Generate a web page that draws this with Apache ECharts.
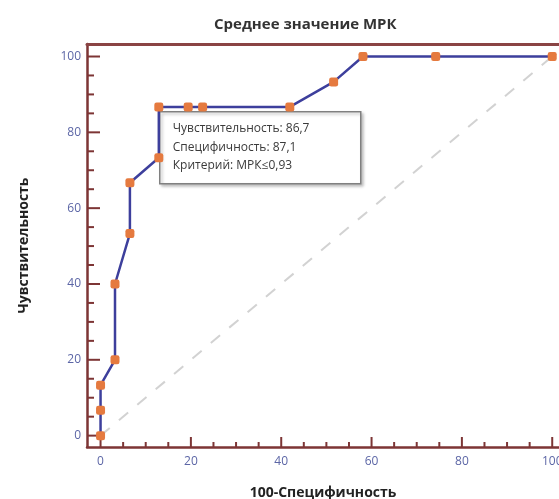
<!DOCTYPE html>
<html><head><meta charset="utf-8">
<script src="https://cdn.jsdelivr.net/npm/echarts@6/dist/echarts.min.js"></script>
<style>html,body{margin:0;padding:0;background:#fff}#c{width:559px;height:499px}</style>
</head><body><div id="c"></div>
<script>
const rocX = [0, 0, 0, 3.2, 3.2, 6.5, 6.5, 12.9, 12.9, 19.4, 22.6, 41.9, 51.6, 58.1, 74.2, 100];
const rocY = [0, 6.7, 13.3, 20, 40, 53.3, 66.7, 73.3, 86.7, 86.7, 86.7, 86.7, 93.3, 100, 100, 100];
const diagX = [0, 100];
const diagY = [0, 100];
const majorTicks = [0, 20, 40, 60, 80, 100];
const minorTicks = [5, 10, 15, 25, 30, 35, 45, 50, 55, 65, 70, 75, 85, 90, 95];
const annotLines = ['Чувствительность: 86,7', 'Специфичность: 87,1', 'Критерий: МРК≤0,93'];

const axisColor = '#7d3535';
const labelColor = '#5c66a6';
const font = '"Open Sans", "Liberation Sans", sans-serif';
const xMin = -3, xMax = 101.5, yMin = -3, yMax = 103.3;

function tickSeries(values, onX, len) {
  return {
    type: 'custom', xAxisIndex: 0, yAxisIndex: 0, z: 5, silent: true, clip: false,
    data: values.map(v => onX ? [v, yMin] : [xMin, v]),
    renderItem: function (params, api) {
      const p = api.coord([api.value(0), api.value(1)]);
      const shape = onX
        ? { x1: p[0], y1: p[1], x2: p[0], y2: p[1] - len }
        : { x1: p[0], y1: p[1], x2: p[0] + len, y2: p[1] };
      return { type: 'line', shape: shape, style: { stroke: axisColor, lineWidth: 2 } };
    }
  };
}

const chart = echarts.init(document.getElementById('c'), null, { renderer: 'canvas' });
chart.setOption({
  animation: false,
  backgroundColor: '#fff',
  title: {
    text: 'Среднее значение МРК', left: 209, top: 12,
    textStyle: { fontFamily: font, fontSize: 15, fontWeight: 'bold', color: '#333' }
  },
  grid: { left: 87, top: 44, right: 0, bottom: 52, outerBoundsMode: 'none', containLabel: false },
  xAxis: [
    { type: 'value', position: 'bottom', min: xMin, max: xMax,
      name: '100-Специфичность', nameLocation: 'middle', nameGap: 39,
      nameTextStyle: { fontFamily: font, fontSize: 14, fontWeight: 'bold', color: '#222' },
      axisLine: { show: true, onZero: false, lineStyle: { color: axisColor, width: 2.5 } },
      axisTick: { show: false },
      axisLabel: { customValues: majorTicks, margin: 9, fontFamily: font, fontSize: 12, color: labelColor },
      splitLine: { show: false } },
    { type: 'value', position: 'top', min: xMin, max: xMax,
      axisLine: { show: true, onZero: false, lineStyle: { color: '#8a4444', width: 3 } },
      axisTick: { show: false }, axisLabel: { show: false }, splitLine: { show: false } }
  ],
  yAxis: [
    { type: 'value', position: 'left', min: yMin, max: yMax,
      name: 'Чувствительность', nameLocation: 'middle', nameGap: 56,
      nameTextStyle: { fontFamily: font, fontSize: 14, fontWeight: 'bold', color: '#222' },
      axisLine: { show: true, onZero: false, lineStyle: { color: axisColor, width: 2.5 } },
      axisTick: { show: false },
      axisLabel: { customValues: majorTicks, margin: 6, fontFamily: font, fontSize: 12, color: labelColor },
      splitLine: { show: false } }
  ],
  series: [
    { type: 'line', xAxisIndex: 0, yAxisIndex: 0, z: 1,
      data: diagX.map((x, i) => [x, diagY[i]]),
      symbol: 'none', silent: true,
      lineStyle: { color: '#d2d2d2', width: 2, type: [12, 12] } },
    tickSeries(majorTicks, true, 10),
    tickSeries(minorTicks, true, 5),
    tickSeries(majorTicks, false, 13),
    tickSeries(minorTicks, false, 7),
    { type: 'line', xAxisIndex: 0, yAxisIndex: 0, z: 6,
      data: rocX.map((x, i) => [x, rocY[i]]),
      symbol: 'roundRect', symbolSize: 9,
      itemStyle: { color: '#e57a3f', borderWidth: 0 },
      lineStyle: { color: '#3d3f9c', width: 2.5 } }
  ],
  graphic: [
    { type: 'group', left: 159, top: 111, z: 10, children: [
      { type: 'rect', shape: { x: 0, y: 0, width: 201, height: 72 },
        style: { fill: '#fff', stroke: '#808080', lineWidth: 1.5,
                 shadowColor: 'rgba(0,0,0,0.25)', shadowBlur: 3, shadowOffsetX: 2, shadowOffsetY: 2 } },
      ...annotLines.map((t, i) => ({ type: 'text', x: 13, y: 17 + i * 18.5,
        style: { text: t, font: '12px ' + font, fill: '#3a3a3a', verticalAlign: 'middle' } }))
    ] }
  ]
});
</script></body></html>
